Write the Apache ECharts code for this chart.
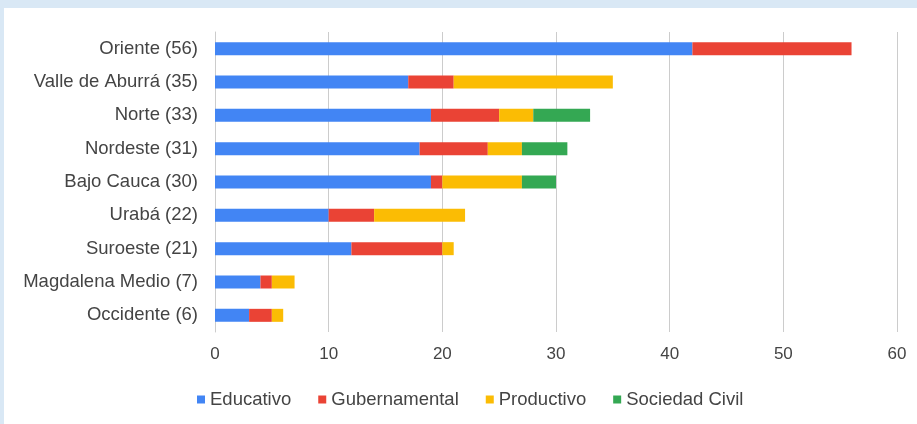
<!DOCTYPE html>
<html>
<head>
<meta charset="utf-8">
<script src="https://cdn.jsdelivr.net/npm/echarts@6/dist/echarts.min.js"></script>
<style>
html,body{margin:0;padding:0;width:917px;height:424px;background:#d9e8f5;overflow:hidden;}
#chart{position:absolute;left:4px;top:8px;width:913px;height:416px;background:#fff;}
</style>
</head>
<body>
<div id="chart"></div>
<script>
const categories = ["Oriente (56)","Valle de Aburrá (35)","Norte (33)","Nordeste (31)","Bajo Cauca (30)","Urabá (22)","Suroeste (21)","Magdalena Medio (7)","Occidente (6)"];
const educativo     = [42,17,19,18,19,10,12,4,3];
const gubernamental = [14,4,6,6,1,4,8,1,2];
const productivo    = [0,14,3,3,7,8,1,2,1];
const sociedadCivil = [0,0,5,4,3,0,0,0,0];
const xTicks = {min:0,max:60,interval:10};

const chart = echarts.init(document.getElementById('chart'));
const font = 'Arial, "Liberation Sans", sans-serif';
function s(name, data, color){
  return {name, type:'bar', stack:'total', data, barWidth:13,
    itemStyle:{color}, emphasis:{disabled:true}};
}
chart.setOption({
  animation:false,
  textStyle:{fontFamily:font},
  grid:{left:211,right:20,top:24,bottom:92,containLabel:false},
  xAxis:{type:'value',min:xTicks.min,max:xTicks.max,interval:xTicks.interval,
    axisLine:{show:false},axisTick:{show:false},
    splitLine:{lineStyle:{color:'#cccccc',width:1}},
    axisLabel:{color:'#444',fontSize:17,margin:14,fontFamily:font}},
  yAxis:{type:'category',data:categories,inverse:true,
    axisLine:{show:true,lineStyle:{color:'#cccccc'}},axisTick:{show:false},
    axisLabel:{color:'#444',fontSize:18.5,margin:17,fontFamily:font}},
  legend:{left:188,top:377,icon:'rect',itemWidth:8,itemHeight:8,itemGap:27,
    textStyle:{color:'#444',fontSize:18.5,fontFamily:font},
    data:['Educativo','Gubernamental','Productivo','Sociedad Civil']},
  series:[
    s('Educativo',educativo,'#4285f4'),
    s('Gubernamental',gubernamental,'#ea4335'),
    s('Productivo',productivo,'#fbbc04'),
    s('Sociedad Civil',sociedadCivil,'#34a853')
  ]
});
</script>
</body>
</html>
